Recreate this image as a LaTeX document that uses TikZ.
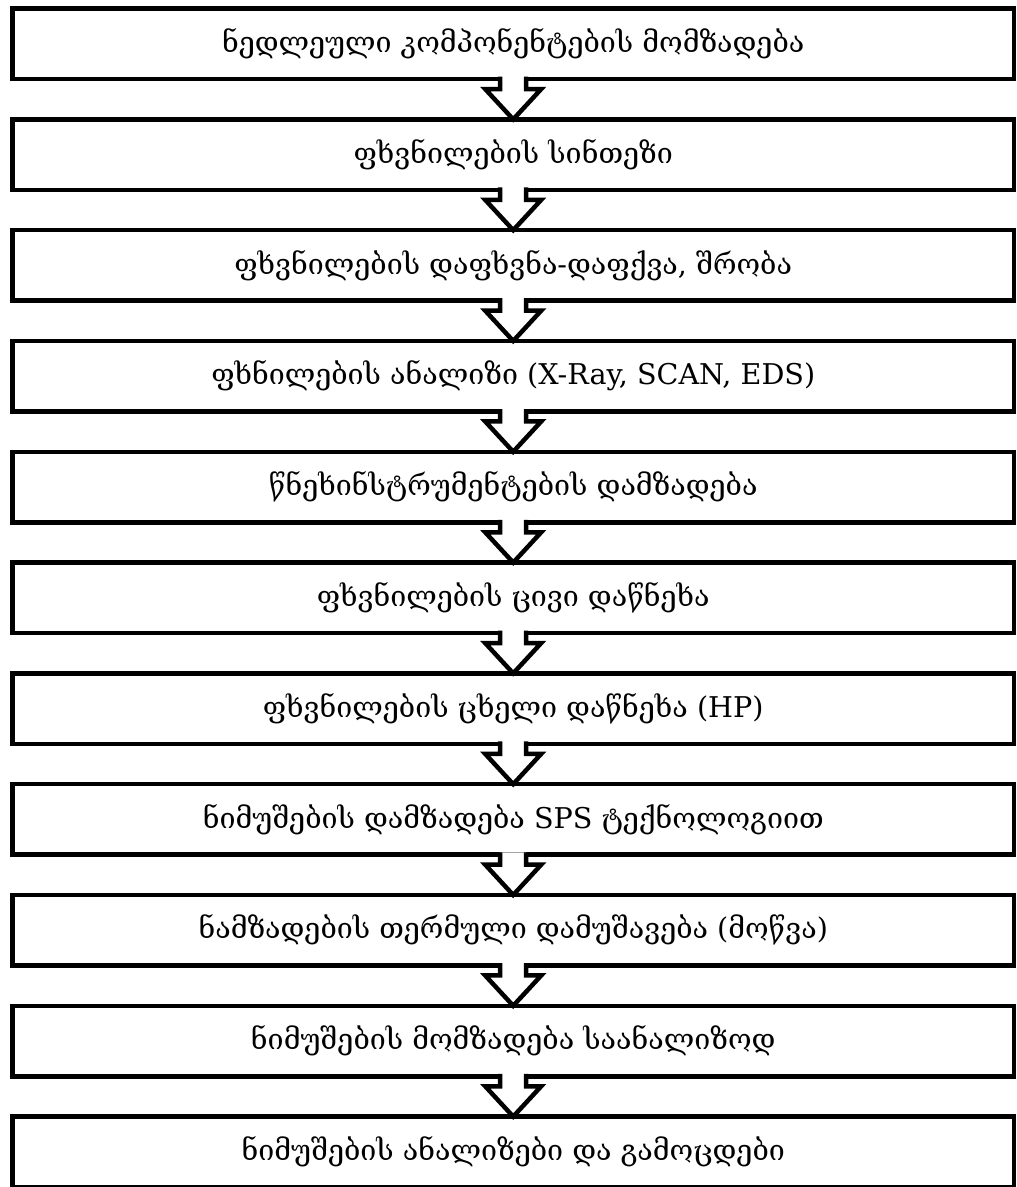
\documentclass[tikz,border=0pt]{standalone}
\usepackage{fontspec}
\setmainfont{DejaVu Serif}
\usetikzlibrary{positioning}
\tikzset{
  stage/.style={draw, line width=2.25pt, minimum width=500.75pt, minimum height=35.25pt,
    outer sep=0pt, inner sep=0pt, font=\fontsize{14.3}{16}\selectfont},
  flow/.style={draw, line width=2.25pt, fill=white, line join=miter}
}
\newcommand{\flowarrow}[2]{%
  \draw[flow] ([xshift=-6.5pt,yshift=1.2pt]#1.south) -- ++(0,-6.2pt) -- ++(-7.5pt,0)
    -- (#2.north) -- ([xshift=14pt,yshift=-5pt]#1.south) -- ++(-7.5pt,0)
    -- ([xshift=6.5pt,yshift=1.2pt]#1.south);}
\begin{document}
\begin{tikzpicture}
			[node distance=20.15pt]
			\useasboundingbox (0,0) rectangle (508pt,-593.5pt);
			\node[stage] (s1) at (256.6pt,-21.9pt) {ნედლეული კომპონენტების მომზადება};
			\node[stage, below=of s1] (s2) {ფხვნილების სინთეზი};
			\node[stage, below=of s2] (s3) {ფხვნილების დაფხვნა-დაფქვა, შრობა};
			\node[stage, below=of s3] (s4) {ფხნილების ანალიზი (X-Ray, SCAN, EDS)};
			\node[stage, below=of s4] (s5) {წნეხინსტრუმენტების დამზადება};
			\node[stage, below=of s5] (s6) {ფხვნილების ცივი დაწნეხა};
			\node[stage, below=of s6] (s7) {ფხვნილების ცხელი დაწნეხა (HP)};
			\node[stage, below=of s7] (s8) {ნიმუშების დამზადება SPS ტექნოლოგიით};
			\node[stage, below=of s8] (s9) {ნამზადების თერმული დამუშავება (მოწვა)};
			\node[stage, below=of s9] (s10) {ნიმუშების მომზადება საანალიზოდ};
			\node[stage, below=of s10] (s11) {ნიმუშების ანალიზები და გამოცდები};
			
			\flowarrow{s1}{s2}
			\flowarrow{s2}{s3}
			\flowarrow{s3}{s4}
			\flowarrow{s4}{s5}
			\flowarrow{s5}{s6}
			\flowarrow{s6}{s7}
			\flowarrow{s7}{s8}
			\flowarrow{s8}{s9}
			\flowarrow{s9}{s10}
			\flowarrow{s10}{s11}
		\end{tikzpicture}
\end{document}
